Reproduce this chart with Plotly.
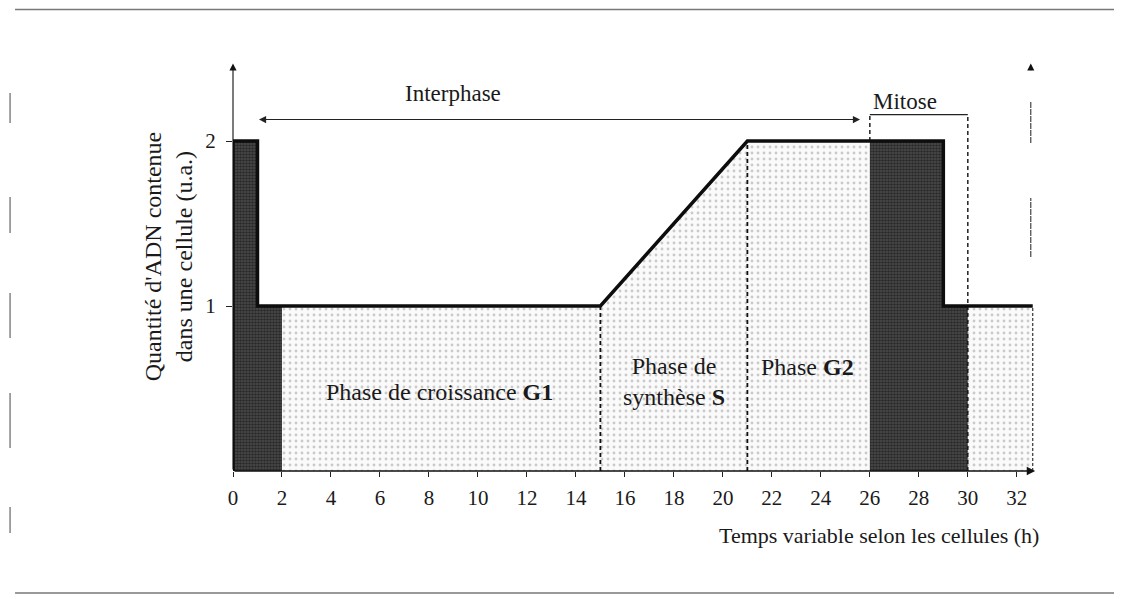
import numpy as np
import plotly.graph_objects as go

# ---------------- data ----------------
time_h = [0, 1, 1, 15, 21, 29, 29, 32.65]          # temps (h)
dna_ua = [2, 2, 1, 1, 2, 2, 1, 1]                  # quantité d'ADN (u.a.)

mitosis_ranges = [(0, 2), (26, 30)]                # zones sombres (mitose)
interphase_ranges = [(2, 26), (30, 32.65)]         # zones claires
phase_dividers = [15, 21]                          # G1 | S | G2
mitosis_label_range = (26, 30)
interphase_arrow = (1, 25.6)

x_ticks = list(range(0, 33, 2))
y_ticks = [1, 2]

phase_labels = ["Phase de croissance <b>G1</b>", "Phase de<br>synthèse <b>S</b>", "Phase <b>G2</b>"]
phase_label_x = [8.45, 18.0, 23.45]
phase_label_y = [0.48, 0.545, 0.63]

FONT = "Liberation Serif"
TXT = "#1a1a1a"

t = np.array(time_h, dtype=float)
d = np.array(dna_ua, dtype=float)


def level(x):
    return float(np.interp(x, t, d))


def region(a, b):
    inner_t = [ti for ti in t if a < ti < b]
    inner_d = [di for ti, di in zip(t, d) if a < ti < b]
    xs = [a] + inner_t + [b, b, a, a]
    ys = [level(a)] + inner_d + [level(b), 0, 0, level(a)]
    return xs, ys


fig = go.Figure()

for a, b in interphase_ranges:
    xs, ys = region(a, b)
    fig.add_trace(go.Scatter(
        x=xs, y=ys, mode="lines", fill="toself", line=dict(width=0),
        fillcolor="#f4f4f4",
        fillpattern=dict(shape=".", bgcolor="#fafafa", fgcolor="#9a9a9a", size=6, solidity=0.18),
        hoverinfo="skip", showlegend=False))

for a, b in mitosis_ranges:
    xs, ys = region(a, b)
    fig.add_trace(go.Scatter(
        x=xs, y=ys, mode="lines", fill="toself", line=dict(width=0),
        fillcolor="#3c3c3c",
        fillpattern=dict(shape=".", bgcolor="#4e4e4e", fgcolor="#050505", size=3, solidity=0.6),
        hoverinfo="skip", showlegend=False))

# thick DNA curve
fig.add_trace(go.Scatter(
    x=[time_h[0]] + time_h, y=[0] + dna_ua, mode="lines",
    line=dict(color="#0d0d0d", width=3.5), cliponaxis=False,
    hoverinfo="skip", showlegend=False))

shapes = []
# dashed phase dividers
for xv in phase_dividers:
    shapes.append(dict(type="line", xref="x", yref="y", x0=xv, x1=xv, y0=0, y1=level(xv),
                       line=dict(color="#111", width=1.8, dash="4px,3px")))

# mitosis bracket
mtop = 2.16
m0, m1 = mitosis_label_range
shapes.append(dict(type="line", xref="x", yref="y", x0=m0, x1=m0, y0=level(m0), y1=mtop,
                   line=dict(color="#111", width=1.4, dash="4px,3px")))
shapes.append(dict(type="line", xref="x", yref="y", x0=m1, x1=m1, y0=0, y1=mtop,
                   line=dict(color="#111", width=1.4, dash="4px,3px")))
shapes.append(dict(type="line", xref="x", yref="y", x0=m0, x1=m1, y0=mtop, y1=mtop,
                   line=dict(color="#222", width=1.2)))
# right edge of the last region
shapes.append(dict(type="line", xref="x", yref="y", x0=time_h[-1], x1=time_h[-1], y0=0, y1=dna_ua[-1],
                   line=dict(color="#333", width=1.2, dash="3px,2px")))

# right partial axis (scan)
for y0, y1 in [(1.988, 2.236), (1.297, 1.655)]:
    shapes.append(dict(type="line", xref="x", yref="y", x0=32.57, x1=32.57, y0=y0, y1=y1,
                       line=dict(color="#444", width=1.2, dash="6px,1px")))


# page borders (scan artifacts); page pixel -> paper fraction
def xp(px):
    return (px - 233) / 823.2


def yp(py):
    return (471 - py) / 429


for py in [9.5, 593]:
    shapes.append(dict(type="line", xref="paper", yref="paper", x0=xp(15), x1=xp(1122), y0=yp(py), y1=yp(py),
                       line=dict(color="#777", width=1.6)))
for a, b in [(93, 123), (197, 233), (293, 338), (393, 448), (507, 533)]:
    shapes.append(dict(type="line", xref="paper", yref="paper", x0=xp(10), x1=xp(10), y0=yp(a), y1=yp(b),
                       line=dict(color="#666", width=1.2)))

annotations = []
# axes arrows
annotations.append(dict(x=32.75, y=0, ax=0, ay=0, xref="x", yref="y", axref="x", ayref="y", text="",
                        showarrow=True, arrowhead=2, arrowsize=1.3, arrowwidth=1.3, arrowcolor="#111"))
annotations.append(dict(x=0, y=2.47, ax=0, ay=0, xref="x", yref="y", axref="x", ayref="y", text="",
                        showarrow=True, arrowhead=2, arrowsize=1.3, arrowwidth=1.1, arrowcolor="#111"))
annotations.append(dict(x=32.57, y=2.47, ax=32.57, ay=2.42, xref="x", yref="y", axref="x", ayref="y", text="",
                        showarrow=True, arrowhead=2, arrowsize=1.3, arrowwidth=1.1, arrowcolor="#111"))
# interphase double arrow
i0, i1 = interphase_arrow
annotations.append(dict(x=i1, y=2.13, ax=i0, ay=2.13, xref="x", yref="y", axref="x", ayref="y", text="",
                        showarrow=True, arrowhead=2, arrowside="end+start", arrowsize=1.3, arrowwidth=1.1,
                        arrowcolor="#222"))
annotations.append(dict(x=9.0, y=2.29, xref="x", yref="y", text="Interphase", showarrow=False,
                        font=dict(family=FONT, size=23, color=TXT)))
annotations.append(dict(x=m0 + 0.05, y=mtop - 0.01, xanchor="left", yanchor="bottom", xref="x", yref="y",
                        text="Mitose", showarrow=False, font=dict(family=FONT, size=23, color=TXT)))
for txt, lx, ly in zip(phase_labels, phase_label_x, phase_label_y):
    annotations.append(dict(x=lx, y=ly, xref="x", yref="y", text=txt, showarrow=False,
                            font=dict(family=FONT, size=24, color=TXT)))
# x axis title
annotations.append(dict(x=33.0, y=yp(535), xref="x", yref="paper", xanchor="right", yanchor="middle",
                        text="Temps variable selon les cellules (h)", showarrow=False,
                        font=dict(family=FONT, size=22, color=TXT)))

fig.update_layout(
    width=1114, height=591,
    margin=dict(l=225, r=65.8, t=34, b=128),
    paper_bgcolor="white", plot_bgcolor="white",
    font=dict(family=FONT, color=TXT),
    shapes=shapes, annotations=annotations,
    xaxis=dict(range=[0, 33.6], showgrid=False, zeroline=False, showline=False,
               tickvals=x_ticks, ticktext=[str(v) for v in x_ticks],
               ticks="outside", ticklen=5, tickcolor="#222", tickwidth=1,
               ticklabelstandoff=3, tickfont=dict(family=FONT, size=21, color=TXT)),
    yaxis=dict(range=[0, 2.6], showgrid=False, zeroline=False, showline=False,
               tickvals=y_ticks, ticktext=[str(v) for v in y_ticks],
               ticks="outside", ticklen=6, tickcolor="#222", tickwidth=1,
               ticklabelstandoff=6, tickfont=dict(family=FONT, size=21, color=TXT),
               title=dict(text="Quantité d'ADN contenue<br>dans une cellule (u.a.)",
                          font=dict(family=FONT, size=24, color=TXT), standoff=5)),
)

fig.write_html("out.html")
